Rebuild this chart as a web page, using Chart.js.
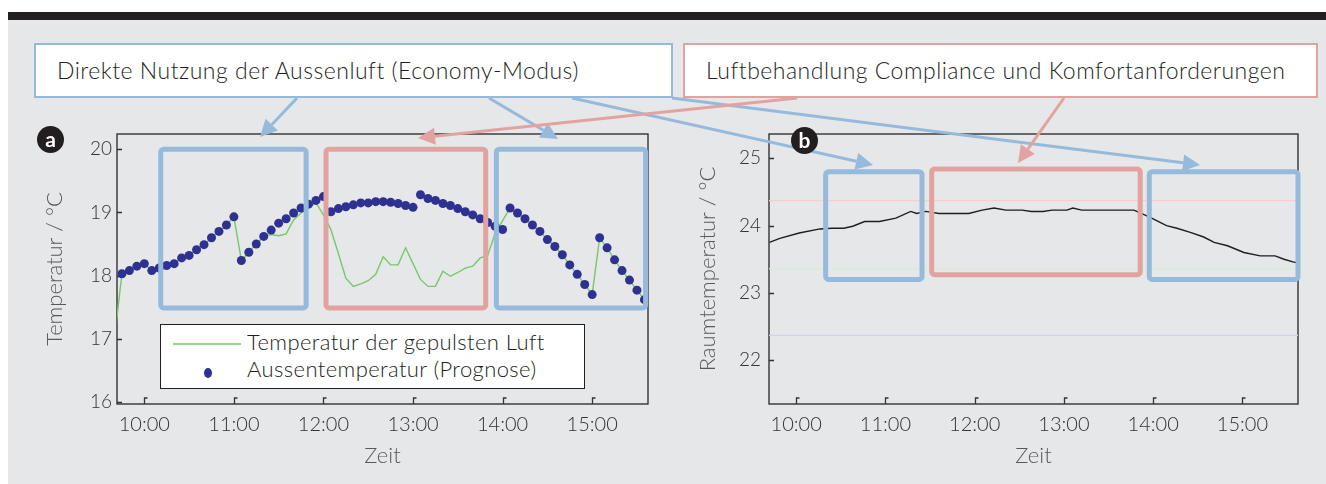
<!DOCTYPE html>
<html>
<head>
<meta charset="utf-8">
<script src="https://cdn.jsdelivr.net/npm/chart.js@4.4.1/dist/chart.umd.min.js"></script>
<style>
  body { margin: 0; background: #fff; font-family: Lato, 'Open Sans', sans-serif; }
  #stage { position: relative; width: 1326px; height: 484px; overflow: hidden; }
  .bar { position: absolute; left: 8px; top: 12px; width: 1318px; height: 8px; background: #231f20; }
  .panel { position: absolute; left: 8px; top: 20px; width: 1318px; height: 464px; background: #e6e7e8; }
  .wrap { position: absolute; top: 100px; height: 384px; }
  #wrapA { left: 0; width: 660px; }
  #wrapB { left: 660px; width: 666px; }
  .callout { position: absolute; top: 43px; height: 55px; box-sizing: border-box; background: #fff;
             border: 2px solid; font-weight: 300; font-size: 23px; letter-spacing: 0.5px; color: #231f20;
             line-height: 51px; padding-left: 21px; white-space: nowrap; }
  #calloutEco { left: 34px; width: 639px; border-color: #95badb; }
  #calloutComfort { left: 683px; width: 635px; border-color: #e2a3a0; }
  .badge { position: absolute; width: 27px; height: 27px; border-radius: 50%; background: #231f20;
           color: #fff; font-weight: 700; font-size: 21px; line-height: 25px; text-align: center; }
  #legendA { position: absolute; left: 160px; top: 324px; width: 425px; height: 65px; box-sizing: border-box;
             border: 1.5px solid #231f20; background: #fff; font-weight: 300; font-size: 22px; letter-spacing: 0.4px; color: #231f20; }
  #legendA .row { position: absolute; left: 86px; white-space: nowrap; line-height: 26px; }
  #arrows { position: absolute; left: 0; top: 0; }
</style>
</head>
<body>
<div id="stage">
  <div class="bar"></div>
  <div class="panel"></div>
  <div class="wrap" id="wrapA"><canvas id="chartA"></canvas></div>
  <div class="wrap" id="wrapB"><canvas id="chartB"></canvas></div>
  <div class="callout" id="calloutEco">Direkte Nutzung der Aussenluft (Economy-Modus)</div>
  <div class="callout" id="calloutComfort">Luftbehandlung Compliance und Komfortanforderungen</div>
  <div id="legendA">
    <svg width="80" height="62" style="position:absolute;left:0;top:0">
      <line x1="12" y1="19" x2="80" y2="19" stroke="#76c86a" stroke-width="1.4"/>
      <ellipse cx="47" cy="48" rx="4" ry="5" fill="#2e3192"/>
    </svg>
    <div class="row" style="top:4px">Temperatur der gepulsten Luft</div>
    <div class="row" style="top:31px">Aussentemperatur (Prognose)</div>
  </div>
  <svg id="arrows" width="1326" height="484"></svg>
  <div class="badge" style="left:37px;top:126px">a</div>
  <div class="badge" style="left:791px;top:127px">b</div>
</div>
<script>
// time axis in minutes since midnight
const X_MIN = 581.7;
const X_MAX = 937.4;
const xTickValues = [600, 660, 720, 780, 840, 900];
const xTickLabels = ['10:00', '11:00', '12:00', '13:00', '14:00', '15:00'];

const yTicksA = [16, 17, 18, 19, 20];
const yTicksB = [22, 23, 24, 25];

// chart a: outdoor forecast (dots) and supply air temperature (line)
const outdoorTimes = [585, 590, 595, 600, 605, 610, 615, 620, 625, 630, 635, 640, 645, 650, 655, 660, 665, 670, 675, 680,
  685, 690, 695, 700, 705, 710, 715, 720, 725, 730, 735, 740, 745, 750, 755, 760, 765, 770, 775, 780,
  785, 790, 795, 800, 805, 810, 815, 820, 825, 830, 835, 840, 845, 850, 855, 860, 865, 870, 875, 880,
  885, 890, 895, 900, 905, 910, 915, 920, 925, 930, 935];
const outdoorTemp = [18.03, 18.08, 18.15, 18.19, 18.08, 18.12, 18.16, 18.19, 18.28, 18.32,
  18.41, 18.49, 18.60, 18.70, 18.80, 18.93, 18.24, 18.37, 18.50, 18.62,
  18.72, 18.83, 18.90, 18.99, 19.07, 19.13, 19.19, 19.25, 19.01, 19.06,
  19.09, 19.12, 19.15, 19.15, 19.17, 19.17, 19.16, 19.14, 19.11, 19.08,
  19.28, 19.22, 19.19, 19.14, 19.11, 19.06, 19.01, 18.96, 18.90, 18.84,
  18.78, 18.73, 19.07, 18.99, 18.90, 18.80, 18.70, 18.57, 18.46, 18.33,
  18.17, 18.02, 17.86, 17.70, 18.60, 18.44, 18.25, 18.08, 17.93, 17.77,
  17.62];

const supplyTimes = [580, 585, 590, 595, 600, 605, 610, 615, 620, 625, 630, 635, 640, 645, 650, 655, 660, 665, 670, 675, 680,
  685, 690, 695, 700, 705, 710, 715, 720, 725, 730, 735, 740, 745, 750, 755, 760, 765, 770, 775, 780,
  785, 790, 795, 800, 805, 810, 815, 820, 825, 830, 835, 840, 845, 850, 855, 860, 865, 870, 875, 880,
  885, 890, 895, 900, 905, 910, 915, 920, 925, 930, 935];
const supplyTemp = [17.00,
  18.03, 18.08, 18.15, 18.19, 18.08, 18.12, 18.16, 18.19, 18.28, 18.32,
  18.41, 18.49, 18.60, 18.70, 18.80, 18.93, 18.24, 18.37, 18.50, 18.62,
  18.65, 18.63, 18.66, 18.88, 18.99, 19.07, 19.15, 18.96, 18.73, 18.35,
  17.96, 17.83, 17.87, 17.92, 18.02, 18.30, 18.17, 18.17, 18.44, 18.19,
  17.94, 17.83, 17.83, 18.07, 17.99, 18.05, 18.12, 18.15, 18.28, 18.32,
  18.67, 18.87, 19.07, 18.99, 18.90, 18.80, 18.70, 18.57, 18.46, 18.33,
  18.17, 18.02, 17.86, 17.70, 18.60, 18.44, 18.25, 18.08, 17.93, 17.77,
  17.62];

// chart b: room temperature
const roomTimes = [582, 589, 602, 616, 624, 632, 638, 646, 656, 667, 677, 681, 687, 696, 716, 725, 733, 741, 752, 758,
  766, 772, 782, 786, 792, 827, 829, 835, 840, 849, 856, 865, 874, 881, 890, 901, 912, 922, 928, 934, 938];
const roomTemp = [23.75, 23.81, 23.89, 23.95, 23.96, 23.96, 23.99, 24.06, 24.06, 24.11, 24.21, 24.18, 24.21, 24.18, 24.18, 24.23, 24.26, 24.23, 24.23, 24.21,
  24.21, 24.23, 24.23, 24.26, 24.23, 24.23, 24.21, 24.15, 24.10, 24.00, 23.96, 23.90, 23.83, 23.75, 23.70, 23.60, 23.55, 23.55, 23.50, 23.46, 23.44];
const limitValues = [24.37, 23.36, 22.37];

// highlighted operating phases: [start, end, bottom, top, mode]
const phasesA = [[611, 708.4, 17.49, 20.0, 'eco'], [721.7, 828.7, 17.49, 20.0, 'comfort'], [835.8, 935.8, 17.49, 20.0, 'eco']];
const phasesB = [[619.8, 684.6, 23.20, 24.80, 'eco'], [691.1, 831.3, 23.27, 24.84, 'comfort'], [837.4, 937.4, 23.20, 24.80, 'eco']];

const FONT = 'Lato, "Open Sans", sans-serif';
const phaseColors = { eco: '#95badb', comfort: '#e2a3a0' };
const limitColors = ['#f7cdd0', '#d6ecd3', '#d3d3ee'];

const framePlugin = {
  id: 'frame',
  beforeDatasetsDraw(chart) {
    const { ctx, chartArea: a, scales: { x, y } } = chart;
    ctx.save();
    ctx.strokeStyle = '#333';
    ctx.lineWidth = 1.4;
    ctx.strokeRect(a.left, a.top, a.right - a.left, a.bottom - a.top);
    ctx.lineWidth = 1.3;
    ctx.beginPath();
    x.ticks.forEach(t => {
      const px = Math.round(x.getPixelForValue(t.value)) + 0.5;
      ctx.moveTo(px, a.bottom);
      ctx.lineTo(px, a.bottom - 6);
      ctx.lineTo(px + 3, a.bottom - 6);
    });
    y.ticks.forEach(t => {
      const py = Math.round(y.getPixelForValue(t.value)) + 0.5;
      ctx.moveTo(a.left, py);
      ctx.lineTo(a.left + 5, py);
    });
    ctx.stroke();
    ctx.restore();
  },
  afterDatasetsDraw(chart) {
    const phases = chart.options.plugins.frame.phases || [];
    const { ctx, scales: { x, y } } = chart;
    ctx.save();
    ctx.lineWidth = 5;
    ctx.lineJoin = 'round';
    phases.forEach(([t0, t1, v0, v1, mode]) => {
      const x0 = x.getPixelForValue(t0), x1 = x.getPixelForValue(t1);
      const y0 = y.getPixelForValue(v1), y1 = y.getPixelForValue(v0);
      ctx.strokeStyle = phaseColors[mode];
      ctx.beginPath();
      ctx.roundRect(x0, y0, x1 - x0, y1 - y0, 3);
      ctx.stroke();
    });
    ctx.restore();
  }
};

function xScale() {
  return {
    type: 'linear', min: X_MIN, max: X_MAX,
    afterBuildTicks: s => { s.ticks = xTickValues.map(v => ({ value: v })); },
    afterFit: s => { s.height = 80; },
    grid: { display: false, drawTicks: false },
    border: { display: false },
    ticks: {
      autoSkip: false, maxRotation: 0, padding: 9, color: '#333',
      font: { family: FONT, size: 20, weight: '300' },
      callback: v => xTickLabels[xTickValues.indexOf(v)]
    },
    title: { display: true, text: 'Zeit', color: '#58595b', padding: { top: 0, bottom: 15 },
      font: { family: FONT, size: 22, weight: '300' } }
  };
}

function yScale(min, max, ticks, width, labelPad, title, titlePad) {
  return {
    type: 'linear', min, max,
    afterBuildTicks: s => { s.ticks = ticks.map(v => ({ value: v })); },
    afterFit: s => { s.width = width; },
    grid: { display: false, drawTicks: false },
    border: { display: false },
    ticks: { padding: labelPad, color: '#333', font: { family: FONT, size: 19, weight: '300' } },
    title: { display: true, text: title, color: '#58595b', padding: { top: titlePad, bottom: 0 },
      font: { family: FONT, size: 22, weight: '300' } }
  };
}

new Chart(document.getElementById('chartA'), {
  type: 'scatter',
  data: {
    datasets: [
      { label: 'Aussentemperatur (Prognose)', data: outdoorTimes.map((t, i) => ({ x: t, y: outdoorTemp[i] })),
        pointRadius: 4.5, pointBackgroundColor: '#2e3192', pointBorderWidth: 0, showLine: false },
      { label: 'Temperatur der gepulsten Luft', data: supplyTimes.map((t, i) => ({ x: t, y: supplyTemp[i] })),
        showLine: true, borderColor: '#76c86a', borderWidth: 1.4, pointRadius: 0, tension: 0 }
    ]
  },
  options: {
    responsive: true, maintainAspectRatio: false, animation: false,
    layout: { padding: { left: 0, top: 34, right: 12, bottom: 0 } },
    plugins: { legend: { display: false }, tooltip: { enabled: false }, frame: { phases: phasesA } },
    scales: { x: xScale(), y: yScale(15.97, 20.24, yTicksA, 117, 5, 'Temperatur / °C', 42) }
  },
  plugins: [framePlugin]
});

new Chart(document.getElementById('chartB'), {
  type: 'scatter',
  data: {
    datasets: [
      { label: 'Raumtemperatur', data: roomTimes.map((t, i) => ({ x: t, y: roomTemp[i] })),
        showLine: true, borderColor: '#1e1e1e', borderWidth: 1.4, pointRadius: 0, tension: 0 },
      ...limitValues.map((v, i) => ({
        label: 'Grenze ' + v, data: [{ x: X_MIN, y: v }, { x: X_MAX, y: v }],
        showLine: true, borderColor: limitColors[i], borderWidth: 1.2, pointRadius: 0
      }))
    ]
  },
  options: {
    responsive: true, maintainAspectRatio: false, animation: false,
    layout: { padding: { left: 0, top: 34, right: 28, bottom: 0 } },
    plugins: { legend: { display: false }, tooltip: { enabled: false }, frame: { phases: phasesB } },
    scales: { x: xScale(), y: yScale(21.35, 25.36, yTicksB, 109, 8, 'Raumtemperatur / °C', 35) }
  },
  plugins: [framePlugin]
});

// callout arrows (page coordinates)
const arrowsEco = [[297, 98, 260, 137], [489, 98, 558, 139], [572, 98, 873, 165], [672, 98, 1200, 165]];
const arrowsComfort = [[797, 98, 418, 138], [1064, 98, 1018, 163]];
const svg = document.getElementById('arrows');
function drawArrow([x0, y0, x1, y1], color) {
  const len = Math.hypot(x1 - x0, y1 - y0), ux = (x1 - x0) / len, uy = (y1 - y0) / len;
  const hl = 17, hw = 8.5, bx = x1 - ux * hl, by = y1 - uy * hl;
  svg.insertAdjacentHTML('beforeend',
    `<line x1="${x0}" y1="${y0}" x2="${bx}" y2="${by}" stroke="${color}" stroke-width="3"/>` +
    `<polygon points="${x1},${y1} ${bx - uy * hw},${by + ux * hw} ${bx + uy * hw},${by - ux * hw}" fill="${color}"/>`);
}
arrowsEco.forEach(a => drawArrow(a, phaseColors.eco));
arrowsComfort.forEach(a => drawArrow(a, phaseColors.comfort));
</script>
</body>
</html>
